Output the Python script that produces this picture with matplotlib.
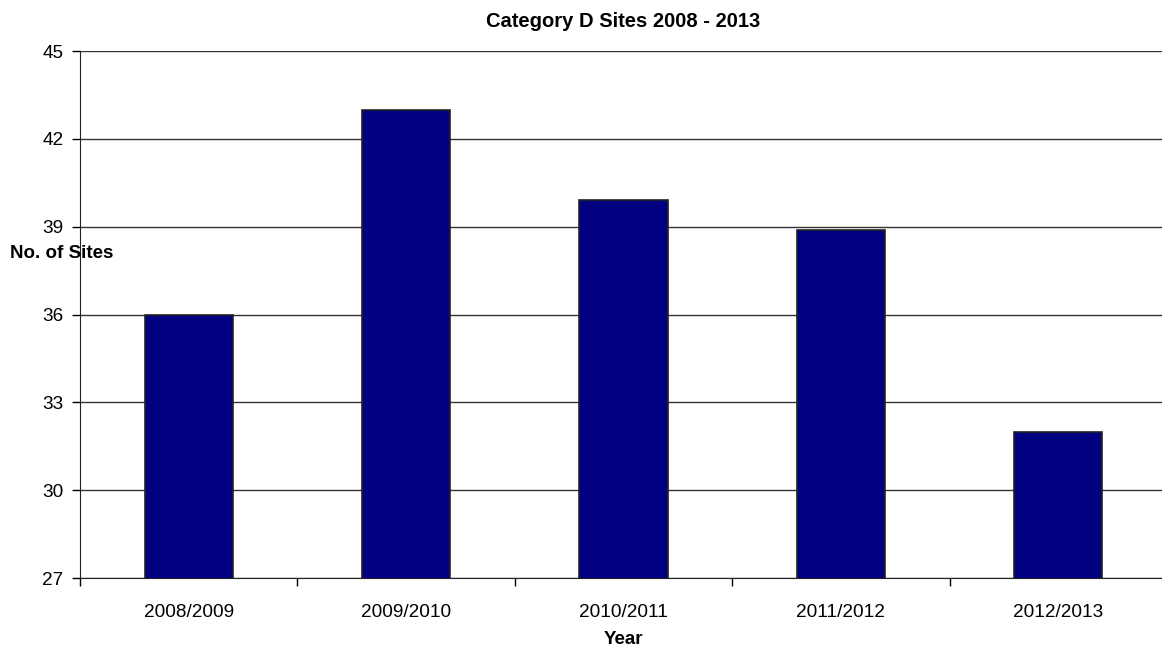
import numpy as np
from matplotlib import pyplot as plt

# Data
years = ["2008/2009", "2009/2010", "2010/2011", "2011/2012", "2012/2013"]
sites = [36, 43, 39.9, 38.9, 32]

plt.rcParams['font.family'] = ['Liberation Sans', 'DejaVu Sans']

fig = plt.figure(figsize=(11.62, 6.49), dpi=100)
ax = fig.add_axes([80 / 1162, 1 - 578 / 649, 1087 / 1162, 527 / 649])

x = np.arange(len(years))
ax.bar(x, sites, width=0.405, bottom=0, color="#000080", edgecolor="#222222",
       linewidth=1.2, zorder=3)

ax.set_ylim(27, 45)
ax.set_yticks(np.arange(27, 46, 3))
ax.set_xlim(-0.5, len(years) - 0.5)
ax.set_xticks(x)
ax.set_xticklabels(years)
ax.set_xticks(np.arange(-0.5, len(years)), minor=True)
ax.tick_params(axis="x", which="major", length=0, pad=19, labelsize=13.7)
ax.tick_params(axis="x", which="minor", length=6, direction="out", width=1)
ax.tick_params(axis="y", length=6, direction="out", width=1, labelsize=13.7, pad=6)

ax.yaxis.grid(True, color="#333333", linewidth=1, zorder=0)
for s in ["top", "right"]:
    ax.spines[s].set_visible(False)
ax.spines["left"].set_color("#222222")
ax.spines["bottom"].set_color("#222222")

ax.set_title("Category D Sites 2008 - 2013", fontsize=14.5, fontweight="bold", pad=17)
ax.set_xlabel("Year", fontsize=13.5, fontweight="bold", labelpad=7)
fig.text(10 / 1162, 1 - 254 / 649, "No. of Sites", fontsize=13.5, fontweight="bold",
         ha="left", va="center")

fig.savefig("out.png", dpi=100)
